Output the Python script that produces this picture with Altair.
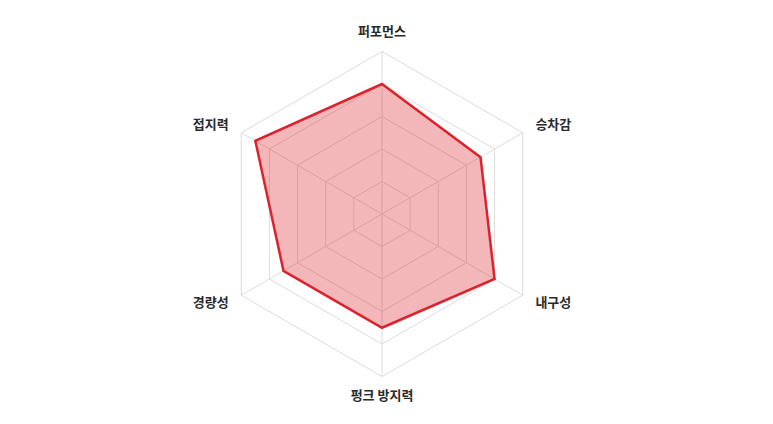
import altair as alt
import pandas as pd

categories = ["퍼포먼스", "승차감", "내구성", "펑크 방지력", "경량성", "접지력"]
values = [4.0, 3.5, 4.0, 3.5, 3.5, 4.5]
rings = [1, 2, 3, 4, 5]
max_value = 5

n = len(categories)
data = pd.DataFrame({"cat": categories, "value": values, "idx": list(range(n))})
grid = pd.DataFrame([{"ring": r, "idx": i} for r in rings for i in range(n)])
spokes = pd.DataFrame({"idx": list(range(n))})
labels = pd.DataFrame({"cat": categories, "idx": list(range(n))})

xs = alt.Scale(domain=[-374 / 32.5, 383 / 32.5], nice=False, zero=False)
ys = alt.Scale(domain=[-202 / 32.5, 206 / 32.5], nice=False, zero=False)
X = lambda f: alt.X(f, type="quantitative", scale=xs, axis=None)
Y = lambda f: alt.Y(f, type="quantitative", scale=ys, axis=None)

ang = f"datum.idx * 2 * PI / {n}"

grid_layer = alt.Chart(grid).transform_calculate(
    gx=f"datum.ring * sin({ang})", gy=f"datum.ring * cos({ang})"
).mark_line(interpolate="linear-closed", color="#dcdcdc", strokeWidth=1).encode(
    x=X("gx"), y=Y("gy"), detail="ring:N", order="idx:Q"
)

spoke_layer = alt.Chart(spokes).transform_calculate(
    x0="0", y0="0",
    sx=f"{max_value} * sin({ang})", sy=f"{max_value} * cos({ang})"
).mark_rule(color="#dcdcdc", strokeWidth=1).encode(
    x=X("x0"), y=Y("y0"), x2="sx:Q", y2="sy:Q"
)

poly = alt.Chart(data).transform_calculate(
    px=f"datum.value * sin({ang})", py=f"datum.value * cos({ang})"
)
fill_layer = poly.mark_line(
    interpolate="linear-closed", fill="#dc232d", fillOpacity=0.33,
    stroke="#dc232d", strokeWidth=2.5, strokeJoin="miter"
).encode(x=X("px"), y=Y("py"), order="idx:Q")

font = "Noto Sans CJK KR"
def label_layer(filt, r, align):
    return alt.Chart(labels).transform_filter(filt).transform_calculate(
        lx=f"{r} * sin({ang})", ly=f"{r} * cos({ang})"
    ).mark_text(
        align=align, baseline="middle", font=font, fontSize=13,
        fontWeight="bold", color="#2a2a2a"
    ).encode(x=X("lx"), y=Y("ly"), text="cat:N")

lab_c = label_layer("datum.idx == 0 || datum.idx == 3", 5.6, "center")
lab_r = label_layer("datum.idx == 1 || datum.idx == 2", 5.45, "left")
lab_l = label_layer("datum.idx == 4 || datum.idx == 5", 5.45, "right")

chart = alt.layer(grid_layer, spoke_layer, fill_layer, lab_c, lab_r, lab_l).properties(
    width=757, height=408, padding=0, background="white",
    autosize=alt.AutoSizeParams(type="none")
).configure_view(stroke="transparent", strokeWidth=0)

chart.save("out.html", embed_options={"renderer": "svg", "actions": False})
